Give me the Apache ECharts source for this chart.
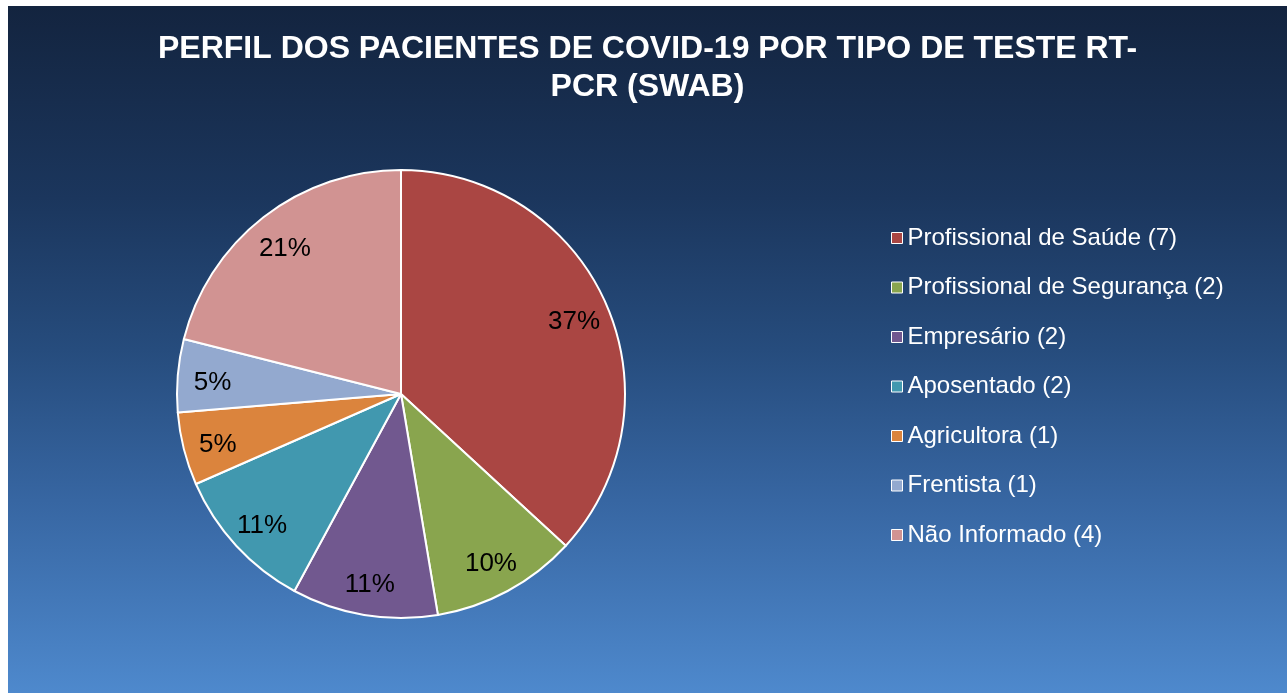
<!DOCTYPE html>
<html>
<head>
<meta charset="utf-8">
<script src="https://cdn.jsdelivr.net/npm/echarts@6/dist/echarts.min.js"></script>
<style>
	body { margin: 0; background: #fff; }
	#chart { position: absolute; left: 8px; top: 6px; width: 1279px; height: 687px; }
</style>
</head>
<body>
<div id="chart"></div>
<script>
var categories = ['Profissional de Saúde (7)', 'Profissional de Segurança (2)', 'Empresário (2)',
	'Aposentado (2)', 'Agricultora (1)', 'Frentista (1)', 'Não Informado (4)'];
var values = [7, 2, 2, 2, 1, 1, 4];
// percent labels as printed on the slices
var pctLabels = ['37%', '10%', '11%', '11%', '5%', '5%', '21%'];
var colors = ['#aa4643', '#89a54e', '#71588f', '#4198af', '#db843d', '#93a9cf', '#d19392'];

var chart = echarts.init(document.getElementById('chart'));

var pieData = [];
for (var i = 0; i < categories.length; i++) {
	pieData.push({ name: categories[i], value: values[i] });
}

var option = {
	backgroundColor: {
		type: 'linear', x: 0, y: 0, x2: 0, y2: 1,
		colorStops: [
			{ offset: 0, color: '#13243f' },
			{ offset: 0.28, color: '#1b365d' },
			{ offset: 0.5, color: '#264c7d' },
			{ offset: 0.72, color: '#3766a2' },
			{ offset: 1, color: '#4e89cd' }
		]
	},
	color: colors,
	title: {
		text: 'PERFIL DOS PACIENTES DE COVID-19 POR TIPO DE TESTE RT-\nPCR (SWAB)',
		left: 'center',
		top: 19,
		textStyle: {
			color: '#fff',
			fontFamily: 'Arial, "Liberation Sans", sans-serif',
			fontWeight: 'bold',
			fontSize: 32,
			lineHeight: 38
		}
	},
	legend: {
		orient: 'vertical',
		left: 878,
		top: 215,
		icon: 'rect',
		itemWidth: 11,
		itemHeight: 11,
		itemGap: 25.5,
		data: categories,
		itemStyle: { borderColor: '#fff', borderWidth: 1 },
		textStyle: {
			color: '#fff',
			fontFamily: 'Arial, "Liberation Sans", sans-serif',
			fontSize: 24,
			lineHeight: 21
		}
	},
	series: [{
		type: 'pie',
		center: [393, 388],
		radius: 224,
		startAngle: 90,
		clockwise: true,
		silent: true,
		label: { show: false },
		labelLine: { show: false },
		itemStyle: { borderColor: '#fff', borderWidth: 2 },
		data: pieData
	}, {
		// transparent ring, only to place the labels near the rim
		type: 'pie',
		center: [393, 388],
		radius: [148, 224],
		startAngle: 90,
		clockwise: true,
		silent: true,
		itemStyle: { color: 'rgba(0,0,0,0)', borderWidth: 0 },
		label: {
			show: true,
			position: 'inside',
			offset: [0, 4],
			color: '#000',
			fontFamily: 'Arial, "Liberation Sans", sans-serif',
			fontSize: 26,
			formatter: function (p) { return pctLabels[p.dataIndex]; }
		},
		labelLine: { show: false },
		data: pieData
	}]
};
chart.setOption(option);
</script>
</body>
</html>
